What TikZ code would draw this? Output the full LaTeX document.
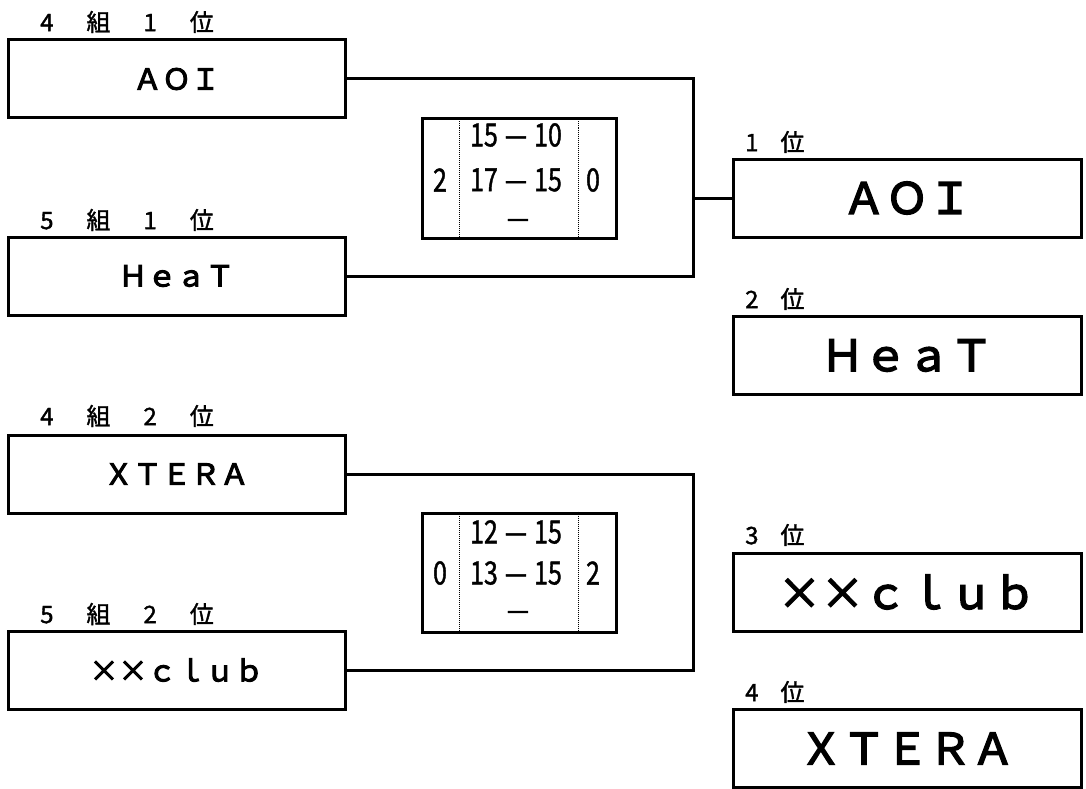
\documentclass[tikz,border=0pt]{standalone}
\usepackage{fontspec}
\setmainfont{Noto Sans CJK JP}
\newfontfamily\narrowfont[FakeStretch=0.78,FakeBold=1.2]{Noto Sans CJK JP}
\newfontfamily\namefont[FakeBold=3.5]{Noto Sans CJK JP}
\newfontfamily\rankfont[FakeBold=1.5]{Noto Sans CJK JP}
\usetikzlibrary{positioning}

\tikzset{
  team/.style={draw, line width=3pt, minimum width=337pt, minimum height=78pt,
    inner sep=0pt, font=\namefont\fontsize{29}{29}\selectfont},
  final/.style={draw, line width=3pt, minimum width=348pt, minimum height=78pt,
    inner sep=0pt, font=\namefont\fontsize{43}{43}\selectfont},
  rank/.style={anchor=west, inner sep=0pt, font=\rankfont\fontsize{24}{24}\selectfont},
  score/.style={draw, line width=3pt, minimum width=194pt, minimum height=119pt, inner sep=0pt},
  pts/.style={inner sep=0pt, font=\narrowfont\fontsize{32}{32}\selectfont},
  link/.style={line width=3pt},
  sep/.style={black, line width=1.5pt, dash pattern=on 1pt off 1pt}
}

\begin{document}
\begin{tikzpicture}[x=1pt,y=-1pt]
\useasboundingbox (0,0) rectangle (1086,789);
% Left teams
\node[rank] (r41) at (40,22) {4\hspace{33pt}組\hspace{33pt}1\hspace{33pt}位};
\node[team] (aoiL) at (176.5,79) {ＡＯＩ};
\node[rank] (r51) at (40,220) {5\hspace{33pt}組\hspace{33pt}1\hspace{33pt}位};
\node[team] (heatL) at (176.5,276) {ＨｅａＴ};
\node[rank] (r42) at (40,416) {4\hspace{33pt}組\hspace{33pt}2\hspace{33pt}位};
\node[team] (xteraL) at (176.5,474) {ＸＴＥＲＡ};
\node[rank] (r52) at (40,614) {5\hspace{33pt}組\hspace{33pt}2\hspace{33pt}位};
\node[team] (clubL) at (176.5,670) {××ｃｌｕｂ};
% Brackets
\coordinate (k1) at (693,198);
\coordinate (k2) at (693,572);
\draw[link] (aoiL.east) -| (k1) |- (heatL.east);
\draw[link] (xteraL.east) -| (k2) |- (clubL.east);
% Scores
\node[score] (s1) at (519,178.5) {};
\draw[sep] ([xshift=39pt]s1.north west) -- ([xshift=39pt]s1.south west);
\draw[sep] ([xshift=-39pt]s1.north east) -- ([xshift=-39pt]s1.south east);
\node[pts] (s1a) at (516,135) {15\hspace{7pt}—\hspace{7pt}10};
\node[pts] (s1b) at (516,180) {17\hspace{7pt}—\hspace{7pt}15};
\node[pts] (s1c) at (518,224) {—};
\node[pts] (s1l) at (440,180) {2};
\node[pts] (s1r) at (593,180) {0};
\node[score] (s2) at (519,572.5) {};
\draw[sep] ([xshift=39pt]s2.north west) -- ([xshift=39pt]s2.south west);
\draw[sep] ([xshift=-39pt]s2.north east) -- ([xshift=-39pt]s2.south east);
\node[pts] (s2a) at (516,532) {12\hspace{7pt}—\hspace{7pt}15};
\node[pts] (s2b) at (516,573) {13\hspace{7pt}—\hspace{7pt}15};
\node[pts] (s2c) at (518,616) {—};
\node[pts] (s2l) at (440,573) {0};
\node[pts] (s2r) at (593,573) {2};
% Final ranking
\node[rank] (p1) at (745,142) {1\hspace{22pt}位};
\node[final] (aoiR) at (907,198) {ＡＯＩ};
\node[rank] (p2) at (745,299) {2\hspace{22pt}位};
\node[final] (heatR) at (907,355.5) {ＨｅａＴ};
\node[rank] (p3) at (745,535) {3\hspace{22pt}位};
\node[final] (clubR) at (907,592) {××ｃｌｕｂ};
\node[rank] (p4) at (745,692) {4\hspace{22pt}位};
\node[final] (xteraR) at (907,748.5) {ＸＴＥＲＡ};
\draw[link] (k1) -- (aoiR.west);
\end{tikzpicture}
\end{document}
